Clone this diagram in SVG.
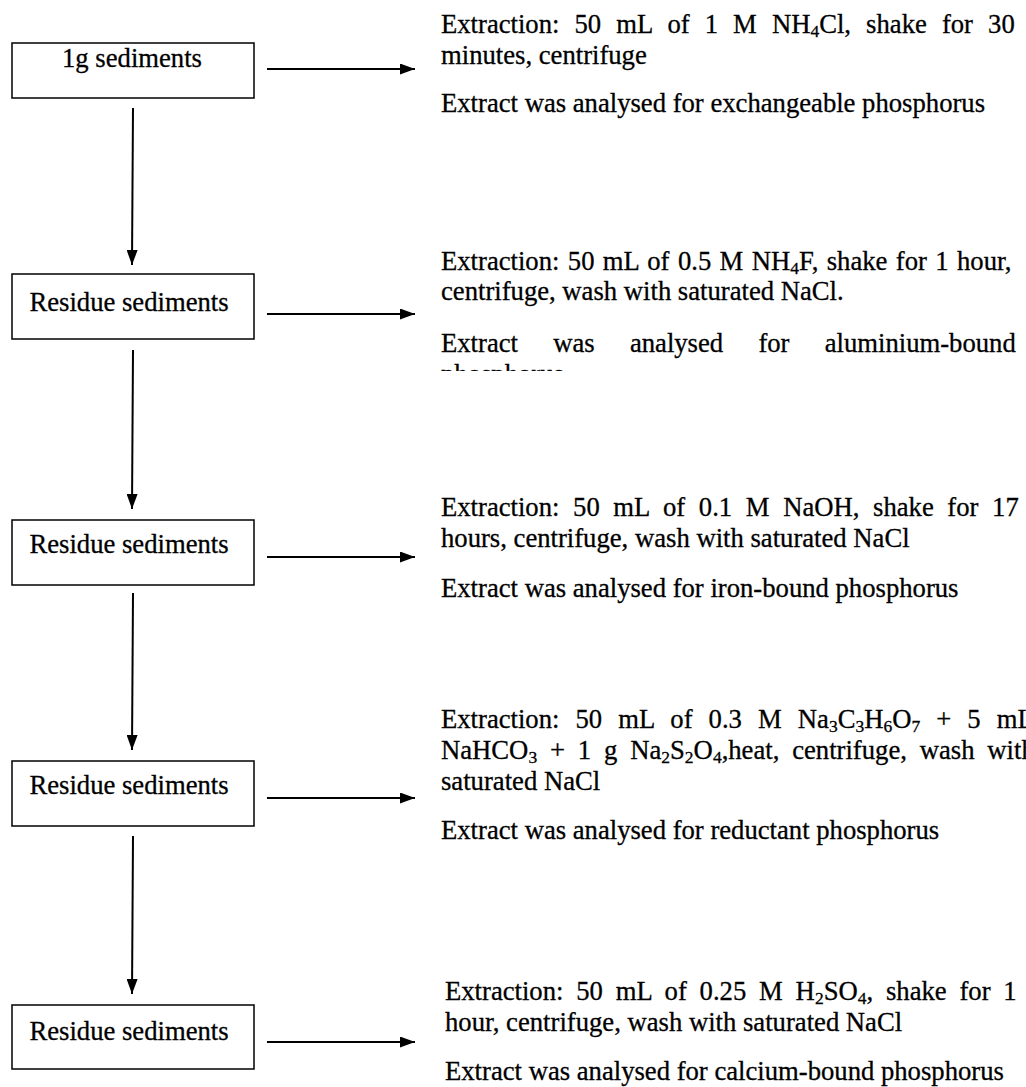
<svg xmlns="http://www.w3.org/2000/svg" width="1026" height="1087" viewBox="0 0 1026 1087">
<style>
.box{fill:#fff;stroke:#000;stroke-width:1.5}
text{font-family:"Liberation Serif","Times New Roman",serif;font-size:26.67px;fill:#000;stroke:#000;stroke-width:0.3}
.sub{font-size:17.5px}
.conn line{stroke:#000;stroke-width:2;fill:none}
</style>
<defs>
<marker id="ah" markerUnits="userSpaceOnUse" markerWidth="15" markerHeight="11" refX="15" refY="5.5" orient="auto">
<path d="M0,0 L15,5.5 L0,11 z" fill="#000"/>
</marker>
<clipPath id="clip2"><rect x="420" y="230" width="620" height="141"/></clipPath>
</defs>
<rect width="1026" height="1087" fill="#fff"/>

<g id="node1">
<rect class="box" x="12" y="43" width="242" height="55"/>
<text x="132" y="67" text-anchor="middle">1g sediments</text>
</g>
<g id="node2">
<rect class="box" x="12" y="274" width="242" height="65"/>
<text x="129" y="311" text-anchor="middle">Residue sediments</text>
</g>
<g id="node3">
<rect class="box" x="12" y="520" width="242" height="65"/>
<text x="129" y="553" text-anchor="middle">Residue sediments</text>
</g>
<g id="node4">
<rect class="box" x="12" y="761" width="242" height="65"/>
<text x="129" y="794" text-anchor="middle">Residue sediments</text>
</g>
<g id="node5">
<rect class="box" x="12" y="1005" width="242" height="64"/>
<text x="129" y="1040" text-anchor="middle">Residue sediments</text>
</g>

<g id="step1">
<text x="441" y="33" style="word-spacing:8.43px">Extraction: 50 mL of 1 M NH<tspan class="sub" dy="4">4</tspan><tspan dy="-4">Cl, shake for 30</tspan></text>
<text x="441" y="64">minutes, centrifuge</text>
<text x="441" y="112">Extract was analysed for exchangeable phosphorus</text>
</g>
<g id="step2">
<text x="441" y="270" style="word-spacing:1.73px">Extraction: 50 mL of 0.5 M NH<tspan class="sub" dy="4">4</tspan><tspan dy="-4">F, shake for 1 hour,</tspan></text>
<text x="441" y="300">centrifuge, wash with saturated NaCl.</text>
<text x="441" y="352" style="word-spacing:28.57px">Extract was analysed for aluminium-bound</text>
<text x="441" y="383" clip-path="url(#clip2)">phosphorus</text>
</g>
<g id="step3">
<text x="441" y="516" style="word-spacing:6.97px">Extraction: 50 mL of 0.1 M NaOH, shake for 17</text>
<text x="441" y="547">hours, centrifuge, wash with saturated NaCl</text>
<text x="441" y="597">Extract was analysed for iron-bound phosphorus</text>
</g>
<g id="step4">
<text x="441" y="728" style="word-spacing:9.41px">Extraction: 50 mL of 0.3 M Na<tspan class="sub" dy="4">3</tspan><tspan dy="-4">C</tspan><tspan class="sub" dy="4">3</tspan><tspan dy="-4">H</tspan><tspan class="sub" dy="4">6</tspan><tspan dy="-4">O</tspan><tspan class="sub" dy="4">7</tspan><tspan dy="-4"> + 5 mL</tspan></text>
<text x="441" y="759" style="word-spacing:6.18px">NaHCO<tspan class="sub" dy="4">3</tspan><tspan dy="-4"> + 1 g Na</tspan><tspan class="sub" dy="4">2</tspan><tspan dy="-4">S</tspan><tspan class="sub" dy="4">2</tspan><tspan dy="-4">O</tspan><tspan class="sub" dy="4">4</tspan><tspan dy="-4">,heat, centrifuge, wash with</tspan></text>
<text x="441" y="790">saturated NaCl</text>
<text x="441" y="839">Extract was analysed for reductant phosphorus</text>
</g>
<g id="step5">
<text x="445" y="1000" style="word-spacing:6.16px">Extraction: 50 mL of 0.25 M H<tspan class="sub" dy="4">2</tspan><tspan dy="-4">SO</tspan><tspan class="sub" dy="4">4</tspan><tspan dy="-4">, shake for 1</tspan></text>
<text x="445" y="1031">hour, centrifuge, wash with saturated NaCl</text>
<text x="445" y="1080">Extract was analysed for calcium-bound phosphorus</text>
</g>

<g class="conn" id="connectors">
<line x1="267" y1="69" x2="415" y2="69" marker-end="url(#ah)"/>
<line x1="267" y1="314" x2="415" y2="314" marker-end="url(#ah)"/>
<line x1="267" y1="557" x2="415" y2="557" marker-end="url(#ah)"/>
<line x1="267" y1="798" x2="415" y2="798" marker-end="url(#ah)"/>
<line x1="267" y1="1042" x2="415" y2="1042" marker-end="url(#ah)"/>
<line x1="133" y1="108" x2="132" y2="265" marker-end="url(#ah)"/>
<line x1="133" y1="350" x2="132" y2="509" marker-end="url(#ah)"/>
<line x1="133" y1="593" x2="132" y2="750" marker-end="url(#ah)"/>
<line x1="133" y1="836" x2="132" y2="994" marker-end="url(#ah)"/>
</g>
</svg>
